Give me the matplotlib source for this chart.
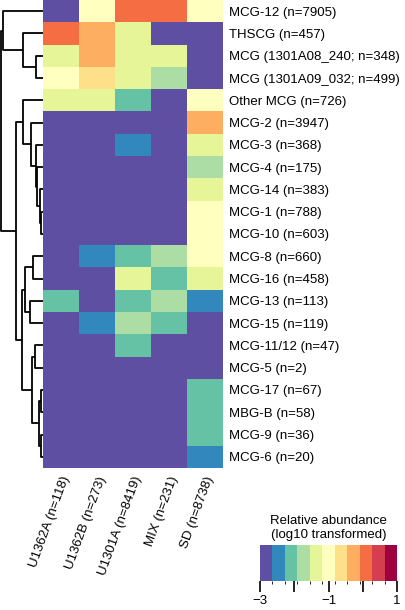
import numpy as np
import matplotlib
matplotlib.use("Agg")
import matplotlib.pyplot as plt
from matplotlib.colors import ListedColormap, BoundaryNorm

plt.rcParams["font.family"] = ["Liberation Sans", "DejaVu Sans"]

# rows (top to bottom) and columns of the heatmap
groups = ["MCG-12 (n=7905)", "THSCG (n=457)", "MCG (1301A08_240; n=348)",
          "MCG (1301A09_032; n=499)", "Other MCG (n=726)", "MCG-2 (n=3947)",
          "MCG-3 (n=368)", "MCG-4 (n=175)", "MCG-14 (n=383)", "MCG-1 (n=788)",
          "MCG-10 (n=603)", "MCG-8 (n=660)", "MCG-16 (n=458)", "MCG-13 (n=113)",
          "MCG-15 (n=119)", "MCG-11/12 (n=47)", "MCG-5 (n=2)", "MCG-17 (n=67)",
          "MBG-B (n=58)", "MCG-9 (n=36)", "MCG-6 (n=20)"]
samples = ["U1362A (n=118)", "U1362B (n=273)", "U1301A (n=8419)",
           "MIX (n=231)", "SD (n=8738)"]

# log10 relative abundance, one list per sample, in row order
u1362a = [-3.0, 0.08, -1.30, -1.05, -1.30, -3.0, -3.0, -3.0, -3.0, -3.0, -3.0,
          -3.0, -3.0, -2.00, -3.0, -3.0, -3.0, -3.0, -3.0, -3.0, -3.0]
u1362b = [-1.00, -0.30, -0.25, -0.60, -1.35, -3.0, -3.0, -3.0, -3.0, -3.0, -3.0,
          -2.50, -3.0, -3.0, -2.45, -3.0, -3.0, -3.0, -3.0, -3.0, -3.0]
u1301a = [0.05, -1.40, -1.35, -1.40, -2.05, -3.0, -2.50, -3.0, -3.0, -3.0, -3.0,
          -2.10, -1.30, -2.10, -1.70, -2.00, -3.0, -3.0, -3.0, -3.0, -3.0]
mix = [0.12, -3.0, -1.30, -1.75, -3.0, -3.0, -3.0, -3.0, -3.0, -3.0, -3.0,
       -1.70, -2.00, -1.75, -2.05, -3.0, -3.0, -3.0, -3.0, -3.0, -3.0]
sd = [-0.95, -3.0, -3.0, -3.0, -1.00, -0.35, -1.30, -1.70, -1.35, -1.05, -1.00,
      -1.05, -1.40, -2.45, -3.0, -3.0, -3.0, -2.00, -2.05, -2.10, -2.50]

# row dendrogram: (left, right, height); new clusters numbered from 21
merges = [
    (2, 3, 7.0),      # 21
    (1, 21, 20.0),    # 22
    (0, 22, 40.0),    # 23
    (9, 10, 1.7),     # 24
    (8, 24, 3.0),     # 25
    (7, 25, 6.5),     # 26
    (6, 26, 7.5),     # 27
    (5, 27, 12.0),    # 28
    (4, 28, 20.0),    # 29
    (11, 12, 10.0),   # 30
    (13, 14, 13.0),   # 31
    (30, 31, 18.0),   # 32
    (15, 16, 8.0),    # 33
    (17, 18, 2.3),    # 34
    (19, 20, 2.3),    # 35
    (34, 35, 3.7),    # 36
    (33, 36, 11.3),   # 37
    (32, 37, 21.3),   # 38
    (29, 38, 26.7),   # 39
    (23, 39, 42.0),   # 40
]

colors = ["#5e4fa2", "#3288bd", "#66c2a5", "#abdda4", "#e6f598", "#ffffbf",
          "#fee08b", "#fdae61", "#f46d43", "#d53e4f", "#9e0142"]
cmap = ListedColormap(colors)
norm = BoundaryNorm(np.linspace(-3, 1, 12), cmap.N)

data = np.array([u1362a, u1362b, u1301a, mix, sd]).T
n = len(groups)
fs = 9.5

fig = plt.figure(figsize=(4.05, 6.10), dpi=100)
ax = fig.add_axes([43 / 405, 1 - 468 / 610, 180 / 405, 468 / 610])
im = ax.imshow(data, cmap=cmap, norm=norm, aspect="auto", interpolation="nearest")

ax.yaxis.tick_right()
ax.set_yticks(range(n))
ax.set_yticklabels(groups, fontsize=fs)
ax.set_xticks(range(len(samples)))
ax.set_xticklabels(samples, fontsize=fs, rotation=70, ha="right",
                   va="top", rotation_mode="anchor")
ax.tick_params(axis="y", length=0, pad=4)
ax.tick_params(axis="x", length=0, pad=5)
for s in ax.spines.values():
    s.set_visible(False)

# dendrogram
dax = fig.add_axes([0, 1 - 468 / 610, 43 / 405, 468 / 610], sharey=ax)
pos = {i: (float(i), 0.0) for i in range(n)}
for k, (a, b, h) in enumerate(merges):
    ya, ha_ = pos[a]
    yb, hb = pos[b]
    dax.plot([ha_, h, h, hb], [ya, ya, yb, yb], color="black", lw=1.3,
             solid_capstyle="butt")
    pos[n + k] = ((ya + yb) / 2, h)
dax.set_xlim(43, 0)
dax.axis("off")
ax.set_ylim(n - 0.5, -0.5)

# colorbar
cax = fig.add_axes([260 / 405, 1 - 581 / 610, 137 / 405, 36 / 610])
cb = fig.colorbar(im, cax=cax, orientation="horizontal")
cb.outline.set_visible(False)
cb.set_ticks([-3, -2, -1, 0, 1])
cb.set_ticklabels(["\u22123", "", "\u22121", "", "1"])
cax.tick_params(length=8, width=1.2, labelsize=fs, pad=2)
cax.set_title("Relative abundance\n(log10 transformed)", fontsize=fs, pad=5)

fig.savefig("out.png", dpi=100)
